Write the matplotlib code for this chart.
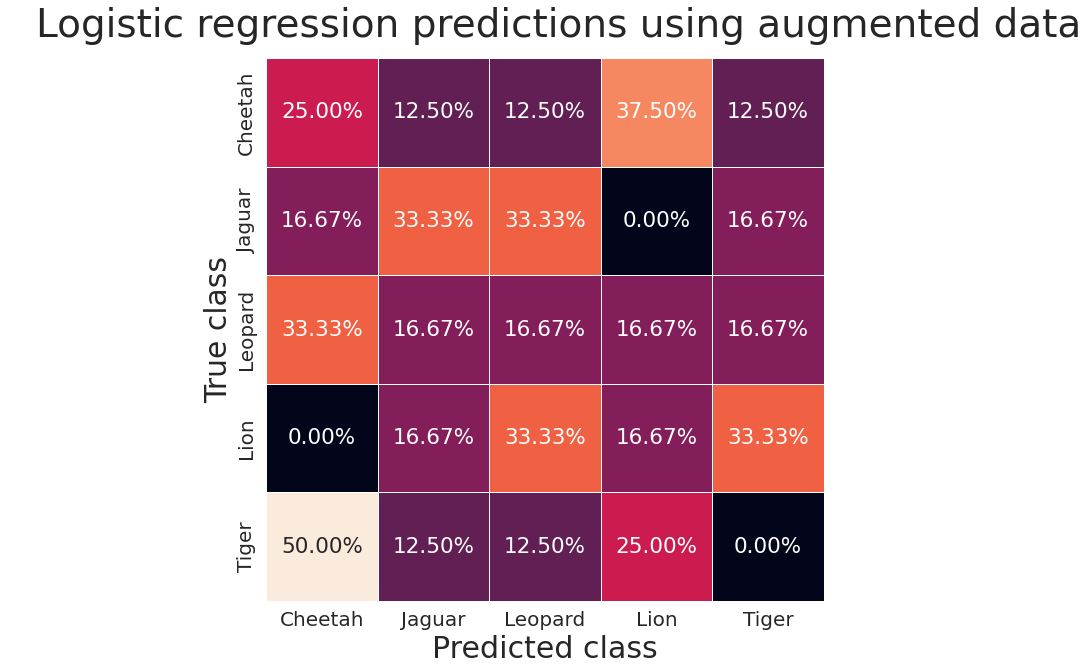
import numpy as np
import matplotlib
matplotlib.use("Agg")
import matplotlib.pyplot as plt
import seaborn as sns

classes = ["Cheetah", "Jaguar", "Leopard", "Lion", "Tiger"]
values = [
    [25.00, 12.50, 12.50, 37.50, 12.50],
    [16.67, 33.33, 33.33, 0.00, 16.67],
    [33.33, 16.67, 16.67, 16.67, 16.67],
    [0.00, 16.67, 33.33, 16.67, 33.33],
    [50.00, 12.50, 12.50, 25.00, 0.00],
]
title = "Logistic regression predictions using augmented data"

sns.set_theme(style="white")
fig = plt.figure(figsize=(10.89, 6.70), dpi=100)
ax = fig.add_axes([266.3/1089, 1-601/670, 557.4/1089, 543/670])
data = np.array(values)
labels = [[f"{v:.2f}%" for v in row] for row in values]
sns.heatmap(data, ax=ax, annot=labels, fmt="", cbar=False, linewidths=0.5, linecolor="white",
            xticklabels=classes, yticklabels=classes, annot_kws={"fontsize": 15.5})
ax.tick_params(axis="x", labelsize=14.4, length=0, rotation=0, pad=7)
ax.tick_params(axis="y", labelsize=14.4, length=0, rotation=90, pad=7.5)
for t in ax.get_yticklabels():
    t.set_va("center")
ax.set_xlabel("Predicted class", fontsize=21.6, labelpad=3.5)
ax.set_ylabel("True class", fontsize=21.5, labelpad=3)
fig.text(558.5/1089, 1-26/670, title, ha="center", va="center", fontsize=28.1, color="#262626")
fig.savefig("out.png", dpi=100, facecolor="white")
